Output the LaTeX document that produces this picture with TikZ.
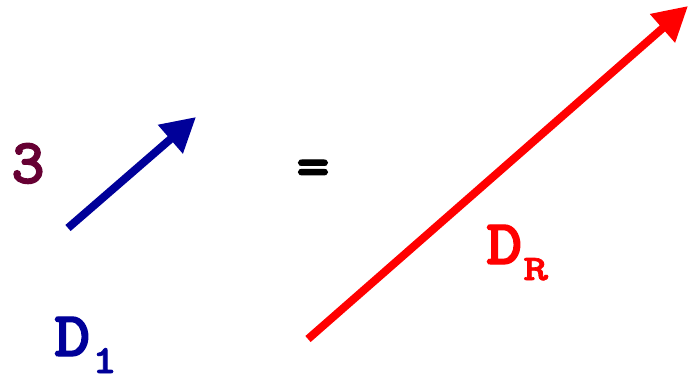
\documentclass[tikz,border=0pt]{standalone}
\usepackage{fontspec}
\newfontfamily\hmono{lmmonolt10-bold.otf}[FakeBold=1.8]
\usetikzlibrary{arrows.meta}
\definecolor{maroon}{RGB}{102,0,51}
\definecolor{dblue}{RGB}{0,0,153}
\definecolor{vred}{RGB}{255,0,0}
\begin{document}
\begin{tikzpicture}[x=1pt,y=-1pt,
  lbl/.style={inner sep=0pt,anchor=base west,font=\hmono\fontsize{64}{64}\selectfont},
  vec/.style={line width=8pt,-{Triangle[length=34pt,width=36pt]}}]
\useasboundingbox (0,0) rectangle (689,376);
\node[lbl,text=maroon] (three) at (11,183) {3};
\node[lbl,text=black] (eq) at (296,187) {=};
\node[lbl,text=dblue] (d1) at (54,356) {\scalebox{1.08}[1]{D}\kern2pt\raisebox{-17pt}{\fontsize{40}{40}\selectfont\scalebox{1.15}[1]{1}}};
\node[lbl,text=vred] (dr) at (486,264) {\scalebox{1.08}[1]{D}\kern1pt\raisebox{-16pt}{\fontsize{36}{36}\selectfont\scalebox{1.3}[1]{R}}};
\coordinate (b1) at (68,228);
\coordinate (b2) at (196,117);
\coordinate (r1) at (308,339);
\coordinate (r2) at (688,6);
\draw[vec,dblue] (b1) -- (b2);
\draw[vec,vred] (r1) -- (r2);
\end{tikzpicture}
\end{document}
